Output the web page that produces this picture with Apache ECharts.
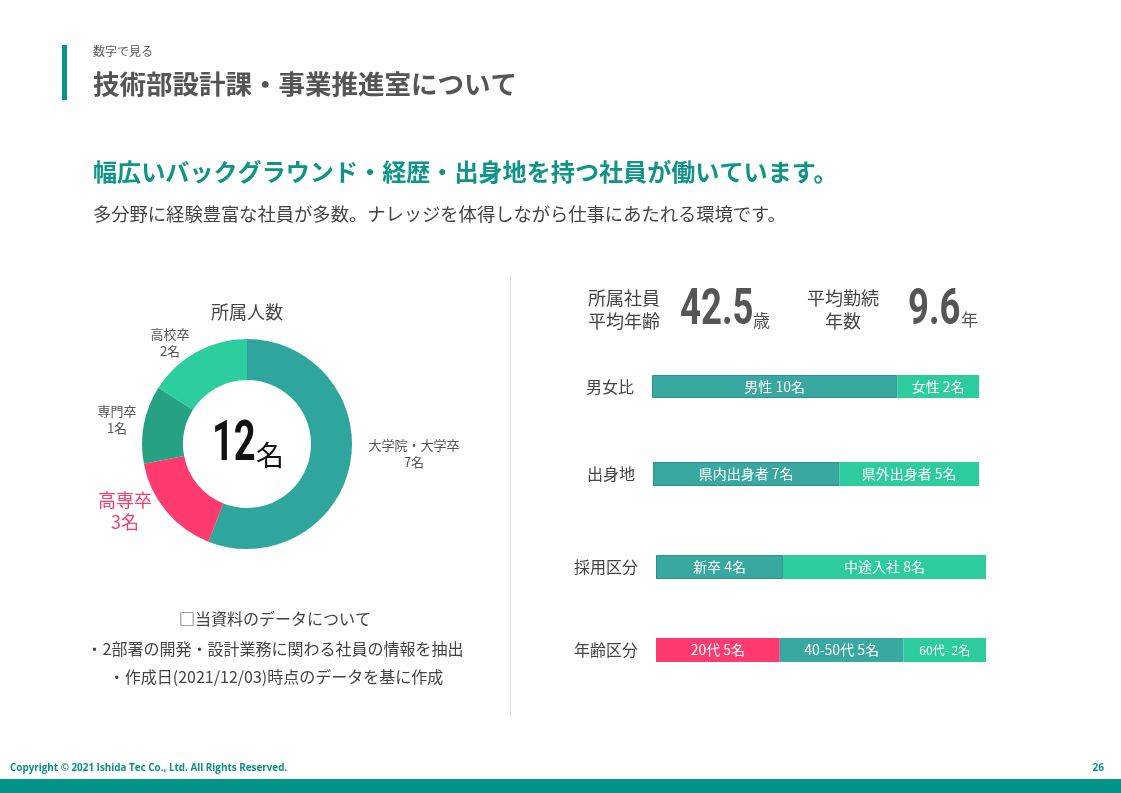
<!DOCTYPE html>
<html>
<head>
<meta charset="utf-8">
<script src="https://cdn.jsdelivr.net/npm/echarts@6/dist/echarts.min.js"></script>
<style>
	html, body { margin: 0; padding: 0; background: #fff; }
	#main { width: 1121px; height: 793px; }
</style>
</head>
<body>
<div id="main"></div>
<script>
'use strict';
// 所属人数（ドーナツ）
var eduNames = ['大学院・大学卒', '高専卒', '専門卒', '高校卒'];
var eduCounts = [7, 3, 1, 2];          // ラベル表記
var eduShares = [7, 2, 1.5, 2];        // 扇の大きさ

// 横棒（内訳）
var barRows = ['男女比', '出身地', '採用区分', '年齢区分'];
var genderShares = [9, 3];
var genderLabels = ['男性 10名', '女性 2名'];
var originShares = [4, 3];
var originLabels = ['県内出身者 7名', '県外出身者 5名'];
var hiringShares = [5, 8];
var hiringLabels = ['新卒 4名', '中途入社 8名'];
var ageShares = [3, 3, 2];
var ageLabels = ['20代 5名', '40-50代 5名', '60代- 2名'];

var avgAge = '42.5';
var avgYears = '9.6';
var totalStaff = '12';

var JP = "'Noto Sans CJK JP', 'Noto Sans', sans-serif";
var TEAL = '#38a8a0', GREEN = '#2dcc9f', PINK = '#ff3a6f';

var chart = echarts.init(document.getElementById('main'));

var rows = [
	{ shares: genderShares, labels: genderLabels, colors: [TEAL, GREEN] },
	{ shares: originShares, labels: originLabels, colors: [TEAL, GREEN] },
	{ shares: hiringShares, labels: hiringLabels, colors: [TEAL, GREEN] },
	{ shares: ageShares, labels: ageLabels, colors: [PINK, TEAL, GREEN] }
];
var gridBoxes = [
	{ left: 652, right: 142, top: 375, height: 23 },
	{ left: 653, right: 142, top: 462, height: 24 },
	{ left: 656, right: 135, top: 555, height: 24 },
	{ left: 656, right: 135, top: 638, height: 24 }
];

var grids = [], xAxes = [], yAxes = [], series = [];
rows.forEach(function (row, r) {
	var total = row.shares.reduce(function (a, b) { return a + b; }, 0);
	grids.push(gridBoxes[r]);
	xAxes.push({ type: 'value', gridIndex: r, min: 0, max: total, show: false });
	yAxes.push({
		type: 'category', gridIndex: r, data: [barRows[r]],
		axisLine: { show: false }, axisTick: { show: false },
		axisLabel: { color: '#444', fontSize: 16, fontFamily: JP, margin: 18 }
	});
	row.shares.forEach(function (v, i) {
		series.push({
			type: 'bar', xAxisIndex: r, yAxisIndex: r, stack: 'row' + r,
			barWidth: '100%', silent: true,
			itemStyle: {
				color: row.colors[i],
				borderColor: (r < 3 && i === 0) ? '#2a928b' : row.colors[i],
				borderWidth: (r < 3 && i === 0) ? 1 : 0
			},
			label: {
				show: true, position: 'inside', color: '#fff',
				fontFamily: JP, fontSize: (r === 3 && i === 2) ? 12 : 14,
				formatter: row.labels[i]
			},
			data: [v]
		});
	});
});

// ドーナツのラベル位置
var labelSpots = [
	{ x: 414, y: 454, color: '#555', size: 13 },
	{ x: 125, y: 511, color: PINK, size: 18 },
	{ x: 117, y: 420, color: '#555', size: 13 },
	{ x: 170, y: 343, color: '#555', size: 13 }
];

series.push({
	type: 'pie',
	center: [247, 444],
	radius: [64, 105],
	startAngle: 90,
	silent: true,
	itemStyle: { borderWidth: 0 },
	label: {
		show: true, position: 'outside', fontFamily: JP,
		formatter: function (p) {
			return '{t' + p.dataIndex + '|' + p.name + '}\n{t' + p.dataIndex + '|' + eduCounts[p.dataIndex] + '名}';
		},
		rich: (function () {
			var o = {};
			labelSpots.forEach(function (s, i) {
				o['t' + i] = { color: s.color, fontSize: s.size, lineHeight: s.size + 4, fontFamily: JP, align: 'center' };
			});
			return o;
		})()
	},
	labelLine: { show: false },
	labelLayout: function (p) {
		var s = labelSpots[p.dataIndex];
		return { x: s.x, y: s.y, align: 'center', verticalAlign: 'middle' };
	},
	data: eduNames.map(function (n, i) {
		return { name: n, value: eduShares[i], itemStyle: { color: ['#2ea69e', PINK, '#27a184', '#2ccd9f'][i] } };
	})
});

function txt(x, y, text, size, color, opts) {
	opts = opts || {};
	return {
		type: 'text', x: x, y: y, silent: true,
		scaleX: opts.scaleX || 1,
		style: {
			text: text, fill: color, fontSize: size,
			fontFamily: opts.family || JP, fontWeight: opts.weight || 'normal',
			textAlign: opts.align || 'left', textVerticalAlign: 'middle'
		}
	};
}

var NUM = "Roboto, 'DejaVu Sans', sans-serif";

var graphic = [
	{ type: 'rect', shape: { x: 62, y: 45, width: 5, height: 55 }, style: { fill: '#0a9488' } },
	txt(93, 51, '数字で見る', 12, '#555'),
	txt(93, 84, '技術部設計課・事業推進室について', 26.5, '#555', { weight: 'bold' }),
	txt(93, 172, '幅広いバックグラウンド・経歴・出身地を持つ社員が働いています。', 24.1, '#0f9488', { weight: 'bold' }),
	txt(93, 214, '多分野に経験豊富な社員が多数。ナレッジを体得しながら仕事にあたれる環境です。', 18.3, '#444'),
	{ type: 'rect', shape: { x: 510, y: 276, width: 1, height: 440 }, style: { fill: '#e2e2e2' } },
	txt(247, 312, '所属人数', 18, '#444', { align: 'center' }),
	txt(212, 446, totalStaff, 56, '#111', { weight: 'bold', family: NUM, scaleX: 0.68 }),
	txt(256, 455, '名', 28, '#111'),
	txt(624, 298, '所属社員', 18, '#444', { align: 'center' }),
	txt(624, 321, '平均年齢', 18, '#444', { align: 'center' }),
	txt(680, 311, avgAge, 50, '#555', { weight: 'bold', family: NUM, scaleX: 0.73 }),
	txt(753, 321, '歳', 17, '#555'),
	txt(843, 298, '平均勤続', 18, '#444', { align: 'center' }),
	txt(843, 321, '年数', 18, '#444', { align: 'center' }),
	txt(908, 311, avgYears, 50, '#555', { weight: 'bold', family: NUM, scaleX: 0.73 }),
	txt(961, 320, '年', 17, '#555'),
	txt(275, 619, '□当資料のデータについて', 16, '#444', { align: 'center' }),
	txt(275, 649, '・2部署の開発・設計業務に関わる社員の情報を抽出', 16, '#444', { align: 'center' }),
	txt(276, 677, '・作成日(2021/12/03)時点のデータを基に作成', 16, '#444', { align: 'center' }),
	txt(10, 768, 'Copyright © 2021 Ishida Tec Co., Ltd. All Rights Reserved.', 9.9, '#0a8f85', { weight: 'bold', family: "'Open Sans', sans-serif" }),
	txt(1104, 768, '26', 10, '#0a8f85', { weight: 'bold', align: 'right', family: "'Open Sans', sans-serif" }),
	{ type: 'rect', shape: { x: 0, y: 779, width: 1121, height: 14 }, style: { fill: '#029389' } }
];

chart.setOption({
	animation: false,
	textStyle: { fontFamily: JP },
	grid: grids,
	xAxis: xAxes,
	yAxis: yAxes,
	series: series,
	graphic: graphic
});
</script>
</body>
</html>
